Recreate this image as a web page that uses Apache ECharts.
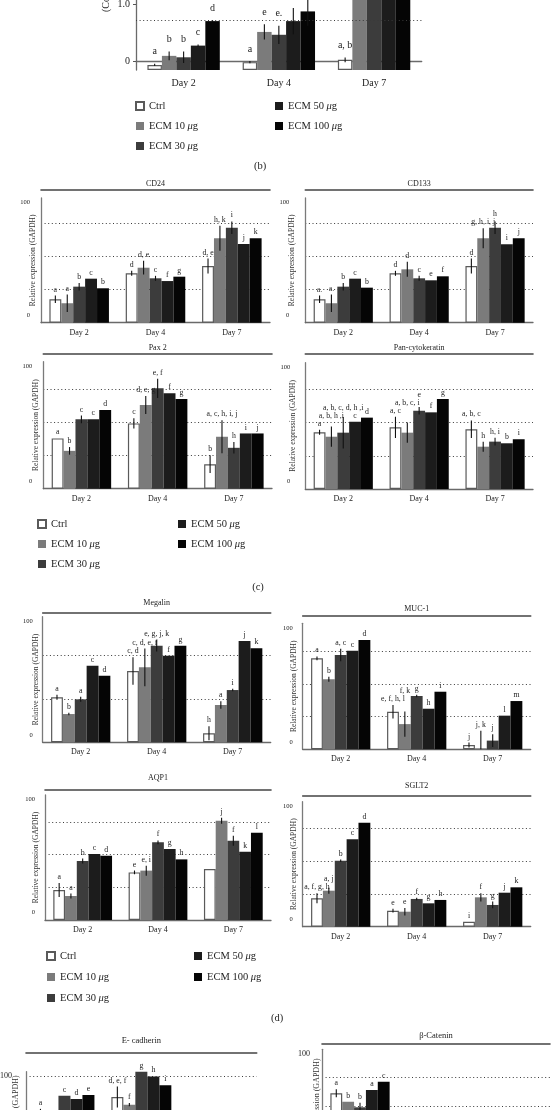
<!DOCTYPE html>
<html><head><meta charset="utf-8">
<script src="https://cdn.jsdelivr.net/npm/echarts@6/dist/echarts.min.js"></script>
<style>html,body{margin:0;padding:0;background:#fff}#c{width:554px;height:1110px}</style>
</head><body><div id="c"></div>
<script>
const FONT = 'Liberation Serif';
const days = ['Day 2', 'Day 4', 'Day 7'];
const groups = ['Ctrl', 'ECM 10 μg', 'ECM 30 μg', 'ECM 50 μg', 'ECM 100 μg'];
// rows: Ctrl, 10, 30, 50, 100 ; columns: Day 2, Day 4, Day 7

// (b) top panel (cut off)
const bValues  = [[-0.07,-0.02,0.02],[0.09,0.51,1.45],[0.065,0.46,1.52],[0.27,0.70,1.58],[0.70,0.87,1.64]];
const bErrors  = [[0.02,0.02,0.04],[0.075,0.135,0],[0.1,0.16,0],[0.02,0.23,0],[0.015,0.25,0]];
const bLetters = [['a','a','a, b'],['b','e',''],['b','e.',''],['c','',''],['d','','']];
const bTickLabels = [0, 1.0];
const bRefLine = [0.71];

const cd24Values  = [[18.8,39.6,45.5],[15.6,44.1,67.7],[28.9,35.6,76.2],[35.3,33.4,63.1],[27.6,36.9,67.7]];
const cd24Errors  = [[3,2,6],[7,5.5,10],[3,2,5],[0,0,0],[0,0,0]];
const cd24Letters = [['a','d','d, e'],['a','d, e','h, k'],['b','c','i'],['c','f','j'],['b','g','k']];

const cd133Values  = [[18.8,39.6,45.5],[15.6,42.8,67.7],[28.9,35.6,76.2],[35.3,34,62.9],[28.1,37.2,67.7]];
const cd133Errors  = [[3,2,6],[7,6,8],[3,2,5],[0,0,0],[0,0,0]];
const cd133Letters = [['a.','d','d'],['a.','d','g, h, i, j'],['b','c','h'],['c','e','i'],['b','f','j']];

const pax2Values  = [[39.6,51.4,19.3],[29.8,65.9,40.9],[54.6,79,32.2],[54.6,75.1,43.5],[61.9,70.6,43.5]];
const pax2Errors  = [[0,4,7],[3,7,13],[3,7.5,4.5],[0,0,0],[0,0,0]];
const pax2Letters = [['a','c','b'],['b','d, e, g','a, c, h, i, j'],['c','e, f','h'],['c','f','i'],['d','g','j']];

const panckValues  = [[44.9,48.8,47.3],[41.4,44.6,33.5],[44.6,62,37.5],[53.3,60.7,36.2],[56.5,71.3,39.4]];
const panckErrors  = [[2,8.4,7],[8,8,4],[12.5,3,3],[0,0,0],[0,0,0]];
const panckLetters = [['a','a, c','a, b, c'],['a, b, h ,i','a, b, c, i','h'],['a, b, c, d, h ,i','e','h, i'],['c','f','b'],['d','g','i']];

const megalinValues  = [[35.8,56.8,7.2],[22.5,59.7,29.7],[34.2,76.9,41.6],[61,69,80.6],[53,76.9,74.8]];
const megalinErrors  = [[2,11,5.6],[1,15,3],[2,4.6,1],[0,0,0],[0,0,0]];
const megalinLetters = [['a','c, d','h'],['b','c, d, e, f','a'],['a','e, g, j, k','i'],['c','f','j'],['d','g','k']];

const muc1Values  = [[72.2,29.8,3.4],[55.6,20,0.8],[74.8,42.3,6.9],[78.3,32.2,26.7],[86.7,45.7,38.3]];
const muc1Errors  = [[1.5,5.3,2],[2,10,14],[5,1,5],[0,0,0],[0,0,0]];
const muc1Letters = [['a','e, f, h, l','j'],['b','f, k','j, k'],['a, c','g','j'],['c','h','l'],['d','i','m']];

const aqp1Values  = [[24,38.1,40.8],[19.2,39.5,79.4],[47.2,62.2,63.4],[52.8,56.8,54.6],[51.4,48.5,69.8]];
const aqp1Errors  = [[5.6,1.5,0],[2,4,2.4],[2,1.5,4],[0,0,0],[0,0,0]];
const aqp1Letters = [['a','e',''],['a','e, i','j'],['b','f','f'],['c','g','k'],['d','h','l']];

const sglt2Values  = [[22.7,12.8,4],[28.8,12,23.5],[52.8,22.2,17.4],[69.9,18.7,27.2],[83.2,21.4,31.5]];
const sglt2Errors  = [[4,1.5,0],[2.4,3,3.3],[1,1,2.7],[0,0,0],[0,0,0]];
const sglt2Letters = [['a, f, g, h','e','i'],['a, j','e','f'],['b','f','g'],['c','g','j'],['d','h','k']];

const ecadValues  = [[61.6,75.9,35],[50,68.6,42],[77,100,48],[74,95.5,38],[77.8,87,44]];
const ecadErrors  = [[3,10,0],[0,1.5,0],[0,0,0],[0,0,0],[0,0,0]];
const ecadLetters = [['a','d, e, f',''],['b','f',''],['c','g',''],['d','h',''],['e','i','']];

const bcatValues  = [[62.1,30,28],[54.8,27,25],[50,32,30],[64.9,35,33],[72.1,37,36]];
const bcatErrors  = [[3.5,0,0],[0,0,0],[4,0,0],[0,0,0],[0,0,0]];
const bcatLetters = [['a','',''],['b','',''],['b','',''],['a','',''],['c','','']];

// dotted grid-line spacing per panel (axis units); panel (b) uses bRefLine
const gridSteps = [null, 26.6, 26.6, 26.2, 26.3, 34.6, 26, 26.2, 26.2, 31.75, 25.3];

const barColors = ['#ffffff', '#7b7b7b', '#3c3c3c', '#1c1c1c', '#050505'];

const panels = [
  {title:'', values:bValues, errors:bErrors, letters:bLetters, left:136, top:-40, width:285.7, height:110, gap:0.24, big:true},
  {title:'CD24', values:cd24Values, errors:cd24Errors, letters:cd24Letters, left:41, top:198, width:229, height:124.7, tOff:8, tGap:2, nGap:4, lMargin:11},
  {title:'CD133', values:cd133Values, errors:cd133Errors, letters:cd133Letters, left:305.3, top:198, width:227.7, height:124.7, tOff:8, tGap:2, nGap:9, lMargin:16},
  {title:'Pax 2', values:pax2Values, errors:pax2Errors, letters:pax2Letters, left:43.3, top:361.7, width:228.7, height:127, tOff:8.4, tGap:1.6, nGap:3, lMargin:11},
  {title:'Pan-cytokeratin', values:panckValues, errors:panckErrors, letters:panckLetters, left:305.3, top:362.7, width:227.7, height:126.3, tOff:9.4, tGap:1.6, nGap:8, lMargin:15},
  {title:'Megalin', values:megalinValues, errors:megalinErrors, letters:megalinLetters, left:42.7, top:616.7, width:228, height:125.6, tOff:4, tGap:5.4, nGap:3, lMargin:10},
  {title:'MUC-1', values:muc1Values, errors:muc1Errors, letters:muc1Letters, left:302.7, top:623.3, width:228, height:126, tOff:7.3, tGap:3, nGap:5, lMargin:10},
  {title:'AQP1', values:aqp1Values, errors:aqp1Errors, letters:aqp1Letters, left:45, top:795, width:226, height:125, tOff:5.7, tGap:7, nGap:5, lMargin:10},
  {title:'SGLT2', values:sglt2Values, errors:sglt2Errors, letters:sglt2Letters, left:302.7, top:801.7, width:228, height:125, tOff:6, tGap:5.7, nGap:5, lMargin:10},
  {title:'E- cadherin', values:ecadValues, errors:ecadErrors, letters:ecadLetters, left:26, top:1071.7, width:230.7, height:105, tOff:19.4, tGap:7, nGap:6, lMargin:14, e:true},
  {title:'β-Catenin', values:bcatValues, errors:bcatErrors, letters:bcatLetters, left:322, top:1049.3, width:228, height:116, tOff:6, tGap:3, nGap:1, lMargin:12, e:true}
];

const measureCtx = document.createElement('canvas').getContext('2d');
function textWidth(s, fs) { measureCtx.font = fs + 'px "' + FONT + '"'; return measureCtx.measureText(s).width; }

const chart = echarts.init(document.getElementById('c'));
const grid = [], xAxis = [], yAxis = [], series = [];
const CLEAR = 'rgba(0,0,0,0)';
const DOT = [1, 2.6];

panels.forEach((p, i) => {
  const gap = p.gap || 0.22;
  const step = gridSteps[i];
  const yMin = p.big ? -0.158 : 0;
  const yMax = p.big ? 1.772 : 100;
  grid.push({left:p.left, top:p.top, width:p.width, height:p.height, outerBoundsMode:'none', containLabel:false});
  xAxis.push({
    gridIndex:i, type:'category', data:days,
    axisLine:{lineStyle:{color:'#6a6a6a', width:1.3}},
    axisTick:{alignWithLabel:true, length:3, lineStyle:{color:'#6a6a6a'}},
    axisLabel:{fontFamily:FONT, fontSize:p.big?10:8, color:'#222', margin:p.big?8:6},
    splitLine:{show:false}
  });
  xAxis.push({
    gridIndex:i, type:'category', data:days, position:'top', offset:p.tOff||0, show:!!p.title,
    axisLine:{show:true, lineStyle:{color:'#444', width:1.6}},
    axisTick:{show:false}, axisLabel:{show:false}, splitLine:{show:false},
    name:p.title, nameLocation:'middle', nameGap:p.tGap||0, nameMoveOverlap:false,
    nameTextStyle:{fontFamily:FONT, fontSize:p.e?8.5:8, color:'#222'}
  });
  if (p.big) {
    yAxis.push({
      gridIndex:i, type:'value', min:yMin, max:yMax, startValue:yMin,
      axisLine:{show:true, lineStyle:{color:'#6a6a6a', width:1.3}},
      axisTick:{show:true, length:3, customValues:bTickLabels, lineStyle:{color:'#555'}},
      axisLabel:{customValues:bTickLabels, fontFamily:FONT, fontSize:10, color:'#222', margin:6,
        formatter:v => (Math.abs(v) < 1e-6 ? '0' : (Math.abs(v - 1) < 1e-6 ? '1.0' : ''))},
      splitLine:{show:false}
    });
  } else {
    const nL = Math.floor((yMax - yMin) / step + 1e-9);
    const cols = [CLEAR]; for (let q = 0; q < nL; q++) cols.push('#3a3a3a'); cols.push(CLEAR);
    yAxis.push({
      gridIndex:i, type:'value', min:yMin, max:yMax, interval:step,
      axisLine:{show:true, lineStyle:{color:'#7a7a7a', width:1.3}},
      axisTick:{show:false},
      splitLine:{show:true, lineStyle:{type:DOT, color:cols, width:1}},
      axisLabel:{fontFamily:FONT, fontSize:p.e?8:6.5, color:'#222', margin:p.lMargin,
        formatter:v => (v === 0 ? '{z|0}' : (Math.abs(v - 100) < 1e-6 ? '{h|100}' : '')),
        rich:{z:{padding:[0,0,15,0]}, h:{padding:[9,0,0,0]}}},
      name:'Relative expression (GAPDH)', nameLocation:'middle', nameRotate:90, nameGap:p.nGap,
      nameMoveOverlap:false,
      nameTextStyle:{fontFamily:FONT, fontSize:p.e?8:7.5, color:'#333'}
    });
  }
  groups.forEach((g, k) => {
    const s = {
      type:'bar', name:g, xAxisIndex:2*i, yAxisIndex:i, data:p.values[k],
      barGap:'0%', barCategoryGap:(gap*100)+'%', silent:true, animation:false,
      emphasis:{disabled:true},
      itemStyle: k === 0 ? {color:'#ffffff', borderColor:'#5a5a5a', borderWidth:1.2} : {color:barColors[k]}
    };
    if (p.big && k === 0) {
      s.markLine = {silent:true, symbol:'none', animation:false, label:{show:false},
        lineStyle:{type:DOT, color:'#3a3a3a', width:1},
        data:bRefLine.map(v => ({yAxis:v}))};
    }
    series.push(s);
  });
  const flat = [];
  for (let d = 0; d < 3; d++) for (let k = 0; k < 5; k++) flat.push([d, k, p.values[k][d], p.errors[k][d]]);
  const fs = p.big ? 10 : 7.8;
  const lg = p.big ? 7 : 2;
  series.push({
    type:'custom', xAxisIndex:2*i, yAxisIndex:i, data:flat, encode:{x:0, y:2}, silent:true, z:10, animation:false,
    renderItem:(params, api) => {
      const d = api.value(0), k = api.value(1);
      const band = api.size([1, 0])[0];
      const gw = band * (1 - gap);
      const bw = gw / 5;
      const cx = api.coord([d, 0])[0];
      const boxes = [];
      let mine = null;
      for (let j = 0; j < 5; j++) {
        const v = p.values[j][d], e = p.errors[j][d];
        const x = cx - gw / 2 + bw * (j + 0.5);
        const yTop = api.coord([d, v + e])[1];
        const yBot = api.coord([d, Math.max(v - e, yMin)])[1];
        const t = p.letters[j][d];
        const item = {x, yTop, yBot, e, t, ly: yTop - lg};
        if (t) {
          const w = textWidth(t, fs) + 1, h = fs * 0.95;
          const b = {x1:x - w / 2, x2:x + w / 2, y2:yTop - lg, y1:yTop - lg - h};
          let moved = true, guard = 0;
          while (moved && guard++ < 20) {
            moved = false;
            for (const o of boxes) {
              if (b.x1 < o.x2 && b.x2 > o.x1 && b.y1 < o.y2 && b.y2 > o.y1) {
                const dy = b.y2 - (o.y1 - 0.5);
                b.y1 -= dy; b.y2 -= dy; moved = true;
              }
            }
          }
          boxes.push(b);
          item.ly = b.y2;
        }
        if (j === k) mine = item;
      }
      const children = [];
      if (mine.e > 0) children.push({type:'line', shape:{x1:mine.x, y1:mine.yTop, x2:mine.x, y2:mine.yBot}, style:{stroke:'#111', lineWidth:1.1}});
      if (mine.t) children.push({type:'text', x:mine.x, y:mine.ly, style:{text:mine.t, align:'center', verticalAlign:'bottom', fontFamily:FONT, fontSize:fs, fill:'#222'}});
      return {type:'group', children};
    }
  });
});

function legendPair(left1, left2, top, gapY) {
  const base = {
    orient:'vertical', top:top, itemWidth:8, itemHeight:8, itemGap:gapY, padding:0, icon:'rect', selectedMode:false,
    formatter:n => n.replace('μ', '{i|μ}'),
    textStyle:{fontFamily:FONT, fontSize:10.5, color:'#222', lineHeight:12,
      rich:{i:{fontFamily:FONT, fontSize:10.5, fontStyle:'italic', color:'#222'}}}
  };
  return [Object.assign({}, base, {left:left1, data:groups.slice(0, 3)}),
          Object.assign({}, base, {left:left2, data:groups.slice(3)})];
}

const txt = (s, x, y) => ({type:'text', x:x, y:y, style:{text:s, fontFamily:FONT, fontSize:10.5, fill:'#222', align:'center', verticalAlign:'middle'}});

chart.setOption({
  animation:false,
  backgroundColor:'#ffffff',
  textStyle:{fontFamily:FONT},
  grid, xAxis, yAxis, series,
  legend:[].concat(legendPair(135, 275, 100, 8), legendPair(37, 178, 518, 8), legendPair(46, 194, 950, 9)),
  graphic:[
    txt('(b)', 260, 166), txt('(c)', 258, 587), txt('(d)', 277, 1018),
    {type:'text', x:106, y:12, rotation:Math.PI/2, style:{text:'(Control = 1)', fontFamily:FONT, fontSize:10, fill:'#222', align:'left', verticalAlign:'middle'}}
  ]
});
</script>
</body></html>
